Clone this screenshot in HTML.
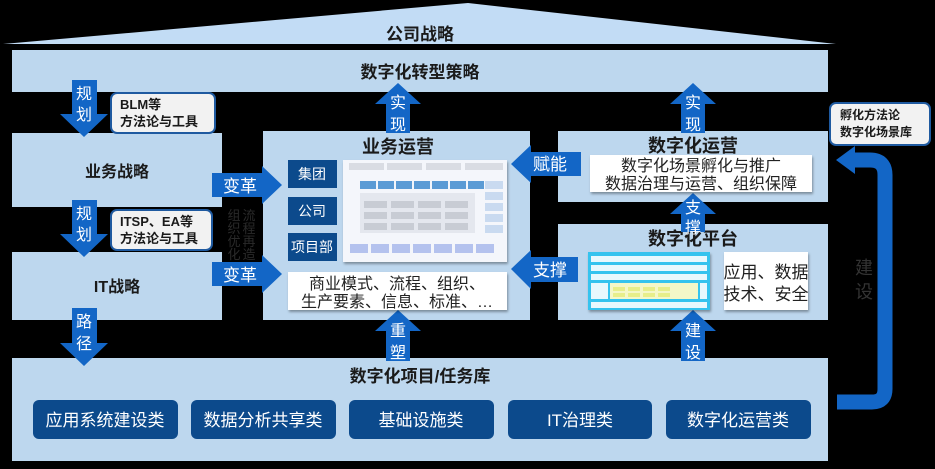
<!DOCTYPE html>
<html><head><meta charset="utf-8"><style>
html,body{margin:0;padding:0;background:#000;}
svg{display:block;}
text{font-family:"Liberation Sans","Noto Sans CJK SC",sans-serif;}
</style></head><body>
<svg width="935" height="469" viewBox="0 0 935 469" xmlns="http://www.w3.org/2000/svg">
<rect width="935" height="469" fill="#000"/>
<defs>
<filter id="sh" x="-10%" y="-10%" width="130%" height="140%"><feDropShadow dx="1" dy="2" stdDeviation="1.2" flood-color="#000" flood-opacity="0.35"/></filter>
</defs>
<polygon points="3,44 468,3 836,44" fill="#c2dcf5"/>
<text x="420" y="40" font-size="17" font-weight="bold" fill="#1a1a1a" text-anchor="middle">公司战略</text>
<g fill="#bdd7ee">
<rect x="12" y="50" width="816" height="42"/>
<rect x="12" y="133" width="210" height="74"/>
<rect x="12" y="252" width="210" height="68"/>
<rect x="263" y="131" width="267" height="189"/>
<rect x="558" y="131" width="270" height="71"/>
<rect x="558" y="224" width="270" height="96"/>
<rect x="12" y="358" width="816" height="103"/>
</g>
<text x="420" y="78" font-size="17" font-weight="bold" fill="#1a1a1a" text-anchor="middle">数字化转型策略</text>
<text x="117" y="177" font-size="16" font-weight="bold" fill="#1a1a1a" text-anchor="middle">业务战略</text>
<text x="117" y="292" font-size="16" font-weight="bold" fill="#1a1a1a" text-anchor="middle">IT战略</text>
<text x="398" y="153" font-size="18" font-weight="bold" fill="#1a1a1a" text-anchor="middle">业务运营</text>
<text x="693" y="152" font-size="18" font-weight="bold" fill="#1a1a1a" text-anchor="middle">数字化运营</text>
<text x="693" y="245" font-size="18" font-weight="bold" fill="#1a1a1a" text-anchor="middle">数字化平台</text>
<text x="420" y="382" font-size="17" font-weight="bold" fill="#1a1a1a" text-anchor="middle">数字化项目/任务库</text>

<rect x="111" y="93" width="104" height="40" rx="6" fill="#f2f2f2" stroke="#1f5aa0" stroke-width="2"/>
<text x="120" y="109" font-size="13" font-weight="bold" fill="#1a1a1a">BLM等</text>
<text x="120" y="126" font-size="13" font-weight="bold" fill="#1a1a1a">方法论与工具</text>
<rect x="111" y="210" width="101" height="40" rx="6" fill="#f2f2f2" stroke="#1f5aa0" stroke-width="2"/>
<text x="120" y="226" font-size="13" font-weight="bold" fill="#1a1a1a">ITSP、EA等</text>
<text x="120" y="243" font-size="13" font-weight="bold" fill="#1a1a1a">方法论与工具</text>
<rect x="830" y="103" width="100" height="42" rx="6" fill="#f2f2f2" stroke="#1f5aa0" stroke-width="2"/>
<text x="840" y="119" font-size="12" font-weight="bold" fill="#1a1a1a">孵化方法论</text>
<text x="840" y="136" font-size="12" font-weight="bold" fill="#1a1a1a">数字化场景库</text>

<g fill="#1366c6">
<polygon points="72,80 97,80 97,114 108,114 84,137 60,114 72,114"/>
<polygon points="72,200 97,200 97,234 108,234 84,257 60,234 72,234"/>
<polygon points="72,308 97,308 97,343 108,343 84,366 60,343 72,343"/>
<polygon points="398,83 421,104 410,104 410,133 386,133 386,104 375,104"/>
<polygon points="693,83 716,104 705,104 705,133 681,133 681,104 670,104"/>
<polygon points="693,193 716,214 705,214 705,232 681,232 681,214 670,214"/>
<polygon points="398,310 421,331 410,331 410,361 386,361 386,331 375,331"/>
<polygon points="693,310 716,331 705,331 705,361 681,361 681,331 670,331"/>
<polygon points="212,173 262,173 262,166 282,185 262,204 262,197 212,197"/>
<polygon points="212,262 262,262 262,255 282,274 262,293 262,286 212,286"/>
<polygon points="581,152 531,152 531,145 511,164 531,183 531,176 581,176"/>
<polygon points="578,257 531,257 531,250 511,269 531,289 531,282 578,282"/>
</g>
<g font-size="16" fill="#fff" text-anchor="middle">
<text x="84" y="99">规</text><text x="84" y="120">划</text>
<text x="84" y="219">规</text><text x="84" y="240">划</text>
<text x="84" y="327">路</text><text x="84" y="349">径</text>
<text x="398" y="108">实</text><text x="398" y="130">现</text>
<text x="693" y="108">实</text><text x="693" y="130">现</text>
<text x="693" y="213">支</text><text x="693" y="233">撑</text>
<text x="398" y="336">重</text><text x="398" y="358">塑</text>
<text x="693" y="336">建</text><text x="693" y="358">设</text>
<text x="240" y="192" font-size="17">变革</text>
<text x="240" y="281" font-size="17">变革</text>
<text x="550" y="170" font-size="17">赋能</text>
<text x="550" y="276" font-size="17">支撑</text>
</g>
<g font-size="13" fill="#2a2a2a" text-anchor="middle">
<text x="234" y="220">组</text><text x="234" y="233">织</text><text x="234" y="246">优</text><text x="234" y="259">化</text>
<text x="249" y="220">流</text><text x="249" y="233">程</text><text x="249" y="246">再</text><text x="249" y="259">造</text>
</g>

<g fill="#0c4a8c">
<rect x="288" y="160" width="49" height="28"/>
<rect x="288" y="197" width="49" height="28"/>
<rect x="288" y="233" width="49" height="28"/>
</g>
<g font-size="14" fill="#fff" text-anchor="middle">
<text x="312" y="179">集团</text><text x="312" y="216">公司</text><text x="312" y="252">项目部</text>
</g>
<rect x="343" y="160" width="164" height="102" fill="#f4f6fb" filter="url(#sh)"/>
<g fill="#d9dce3"><rect x="349" y="163" width="35" height="7"/><rect x="387" y="163" width="35" height="7"/><rect x="426" y="163" width="35" height="7"/><rect x="465" y="163" width="38" height="7"/></g>
<g fill="#5b9bd5"><rect x="360" y="181" width="16" height="8"/><rect x="378" y="181" width="16" height="8"/><rect x="396" y="181" width="16" height="8"/><rect x="414" y="181" width="16" height="8"/><rect x="432" y="181" width="16" height="8"/><rect x="450" y="181" width="16" height="8"/><rect x="468" y="181" width="16" height="8"/></g>
<rect x="360" y="193" width="115" height="40" fill="#e4e7ee"/>
<g fill="#c8ccd4"><rect x="364" y="201" width="23" height="7"/><rect x="391" y="201" width="23" height="7"/><rect x="418" y="201" width="23" height="7"/><rect x="445" y="201" width="23" height="7"/>
<rect x="364" y="212" width="23" height="7"/><rect x="391" y="212" width="23" height="7"/><rect x="418" y="212" width="23" height="7"/><rect x="445" y="212" width="23" height="7"/>
<rect x="364" y="223" width="23" height="7"/><rect x="391" y="223" width="23" height="7"/><rect x="418" y="223" width="23" height="7"/><rect x="445" y="223" width="23" height="7"/></g>
<g fill="#c9daf0"><rect x="485" y="181" width="18" height="8"/><rect x="485" y="192" width="18" height="8"/><rect x="485" y="203" width="18" height="8"/><rect x="485" y="214" width="18" height="8"/><rect x="485" y="225" width="18" height="8"/></g>
<g fill="#b4c2ee"><rect x="350" y="244" width="18" height="9"/><rect x="371" y="244" width="18" height="9"/><rect x="392" y="244" width="18" height="9"/><rect x="413" y="244" width="18" height="9"/><rect x="434" y="244" width="18" height="9"/><rect x="455" y="244" width="18" height="9"/><rect x="476" y="244" width="18" height="9"/></g>
<rect x="288" y="272" width="219" height="38" fill="#fff" filter="url(#sh)"/>
<g font-size="16" fill="#222" text-anchor="middle">
<text x="397" y="289">商业模式、流程、组织、</text>
<text x="397" y="307">生产要素、信息、标准、…</text>
</g>
<rect x="590" y="155" width="222" height="37" fill="#fff" filter="url(#sh)"/>
<g font-size="16" fill="#222" text-anchor="middle">
<text x="701" y="171">数字化场景孵化与推广</text>
<text x="701" y="189">数据治理与运营、组织保障</text>
</g>
<rect x="588" y="252" width="122" height="58" fill="#35c3ee" filter="url(#sh)"/>
<g fill="#e8f8fd"><rect x="591" y="256" width="116" height="6"/><rect x="591" y="265" width="116" height="6"/><rect x="591" y="274" width="116" height="6"/><rect x="591" y="283" width="17" height="16"/><rect x="700" y="283" width="7" height="16"/><rect x="591" y="302" width="116" height="6"/></g>
<rect x="610" y="283" width="88" height="16" fill="#f4f7c8"/>
<g fill="#e7ee8a"><rect x="613" y="287" width="12" height="4"/><rect x="628" y="287" width="12" height="4"/><rect x="643" y="287" width="12" height="4"/><rect x="658" y="287" width="12" height="4"/><rect x="613" y="293" width="12" height="4"/><rect x="628" y="293" width="12" height="4"/><rect x="643" y="293" width="12" height="4"/><rect x="658" y="293" width="12" height="4"/></g>
<rect x="724" y="252" width="84" height="58" fill="#fff" filter="url(#sh)"/>
<g font-size="17" fill="#222" text-anchor="middle">
<text x="766" y="278">应用、数据</text>
<text x="766" y="300">技术、安全</text>
</g>
<g fill="#0c4a8c">
<rect x="33" y="400" width="145" height="39" rx="6"/>
<rect x="191" y="400" width="145" height="39" rx="6"/>
<rect x="349" y="400" width="145" height="39" rx="6"/>
<rect x="508" y="400" width="144" height="39" rx="6"/>
<rect x="666" y="400" width="145" height="39" rx="6"/>
</g>
<g font-size="17" fill="#fff" text-anchor="middle">
<text x="105" y="426">应用系统建设类</text>
<text x="263" y="426">数据分析共享类</text>
<text x="421" y="426">基础设施类</text>
<text x="580" y="426">IT治理类</text>
<text x="738" y="426">数字化运营类</text>
</g>
<path d="M837,402 L872,402 Q885,402 885,389 L885,175 Q885,160 870,160 L852,160" fill="none" stroke="#1366c6" stroke-width="15"/>
<polygon points="836,160 855,146 855,174" fill="#1366c6"/>
<g font-size="18" fill="#333" text-anchor="middle"><text x="864" y="274">建</text><text x="864" y="298">设</text></g>
</svg>
</body></html>
